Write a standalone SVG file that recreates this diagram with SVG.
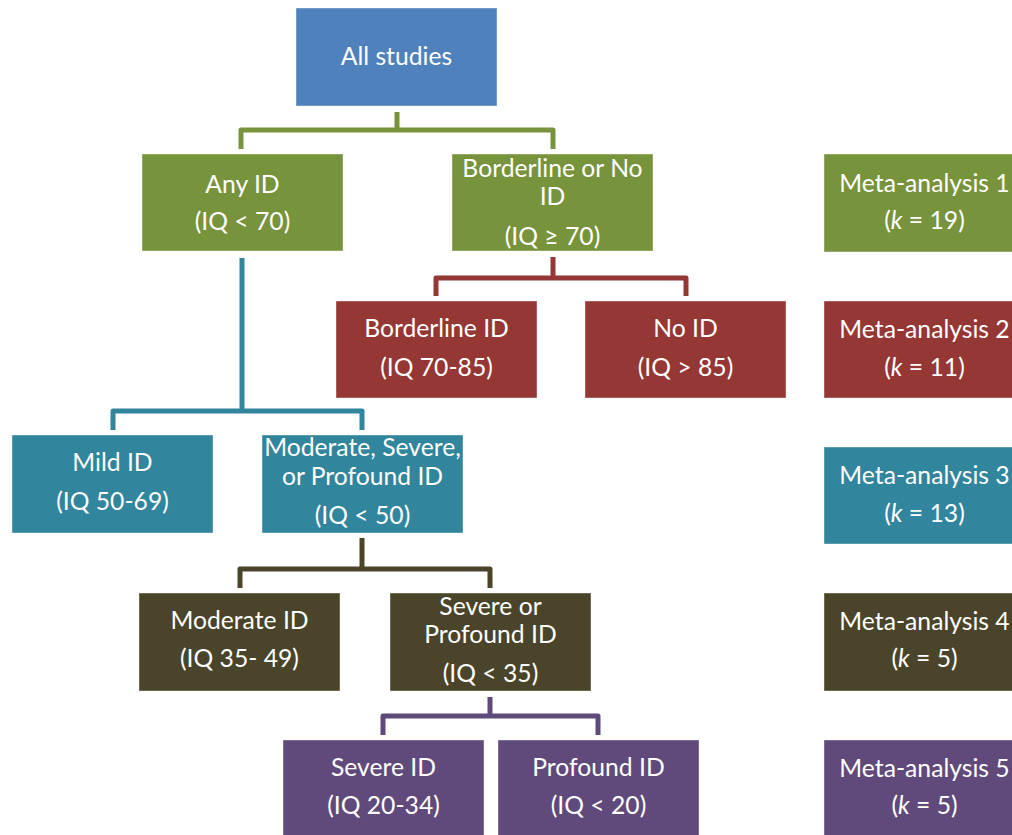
<svg xmlns="http://www.w3.org/2000/svg" width="1012" height="835" viewBox="0 0 1012 835">
<style>
  .box { stroke: #ffffff; stroke-opacity: 0.4; stroke-width: 1; }
  .blue { fill: #4F81BD; }
  .green { fill: #77933C; }
  .red { fill: #953735; }
  .teal { fill: #31859C; }
  .olive { fill: #4A452A; }
  .purple { fill: #604A7B; }
  text { font-family: Lato, "Open Sans", "Liberation Sans", sans-serif; font-size: 24.7px; fill: #ffffff; text-anchor: middle; }
  .it { font-style: italic; }
  .conn { fill: none; stroke-width: 5; stroke-linejoin: round; }
  .c-green { stroke: #77933C; }
  .c-red { stroke: #953735; }
  .c-teal { stroke: #31859C; }
  .c-olive { stroke: #4A452A; }
  .c-purple { stroke: #604A7B; }
</style>
<rect width="1012" height="835" fill="#ffffff"/>
<g id="connectors">
  <path class="conn c-green" d="M397,112 V130 M241,149 V130 H553 V149"/>
  <path class="conn c-red" d="M553,257 V278 M436,296 V278 H686 V296"/>
  <path class="conn c-teal" d="M242,258 V411 M113,430 V411 H362 V430"/>
  <path class="conn c-olive" d="M362,538 V569 M240,588 V569 H490 V588"/>
  <path class="conn c-purple" d="M490,697 V716 M383,735 V716 H598 V735"/>
</g>
<g id="all-studies">
  <rect class="box blue" x="296" y="8" width="201" height="98"/>
  <text x="396.5" y="65">All studies</text>
</g>
<g id="any-id">
  <rect class="box green" x="142" y="154" width="201" height="97"/>
  <text x="242.5" y="193">Any ID</text>
  <text x="242.5" y="230">(IQ &lt; 70)</text>
</g>
<g id="borderline-or-no-id">
  <rect class="box green" x="452" y="154" width="201" height="97"/>
  <text x="552.5" y="177">Borderline or No</text>
  <text x="552.5" y="205">ID</text>
  <text x="552.5" y="245">(IQ ≥ 70)</text>
</g>
<g id="meta-1">
  <rect class="box green" x="824" y="154" width="201" height="98"/>
  <text x="924.5" y="192">Meta-analysis 1</text>
  <text x="924.5" y="229">(<tspan class="it">k</tspan> = 19)</text>
</g>
<g id="borderline-id">
  <rect class="box red" x="336" y="301" width="201" height="97"/>
  <text x="436.5" y="337">Borderline ID</text>
  <text x="436.5" y="376">(IQ 70-85)</text>
</g>
<g id="no-id">
  <rect class="box red" x="585" y="301" width="201" height="97"/>
  <text x="685.5" y="337">No ID</text>
  <text x="685.5" y="376">(IQ &gt; 85)</text>
</g>
<g id="meta-2">
  <rect class="box red" x="824" y="301" width="201" height="97"/>
  <text x="924.5" y="338">Meta-analysis 2</text>
  <text x="924.5" y="376">(<tspan class="it">k</tspan> = 11)</text>
</g>
<g id="mild-id">
  <rect class="box teal" x="12" y="435" width="201" height="98"/>
  <text x="112.5" y="471">Mild ID</text>
  <text x="112.5" y="510">(IQ 50-69)</text>
</g>
<g id="moderate-severe-profound-id">
  <rect class="box teal" x="262" y="435" width="201" height="98"/>
  <text x="362.5" y="456">Moderate, Severe,</text>
  <text x="362.5" y="485">or Profound ID</text>
  <text x="362.5" y="524">(IQ &lt; 50)</text>
</g>
<g id="meta-3">
  <rect class="box teal" x="824" y="447" width="201" height="97"/>
  <text x="924.5" y="484">Meta-analysis 3</text>
  <text x="924.5" y="522">(<tspan class="it">k</tspan> = 13)</text>
</g>
<g id="moderate-id">
  <rect class="box olive" x="139" y="593" width="201" height="98"/>
  <text x="239.5" y="629">Moderate ID</text>
  <text x="239.5" y="667">(IQ 35- 49)</text>
</g>
<g id="severe-or-profound-id">
  <rect class="box olive" x="390" y="593" width="201" height="98"/>
  <text x="490.5" y="615">Severe or</text>
  <text x="490.5" y="643">Profound ID</text>
  <text x="490.5" y="682">(IQ &lt; 35)</text>
</g>
<g id="meta-4">
  <rect class="box olive" x="824" y="593" width="201" height="98"/>
  <text x="924.5" y="630">Meta-analysis 4</text>
  <text x="924.5" y="667">(<tspan class="it">k</tspan> = 5)</text>
</g>
<g id="severe-id">
  <rect class="box purple" x="283" y="740" width="201" height="98"/>
  <text x="383.5" y="776">Severe ID</text>
  <text x="383.5" y="814">(IQ 20-34)</text>
</g>
<g id="profound-id">
  <rect class="box purple" x="498" y="740" width="201" height="98"/>
  <text x="598.5" y="776">Profound ID</text>
  <text x="598.5" y="814">(IQ &lt; 20)</text>
</g>
<g id="meta-5">
  <rect class="box purple" x="824" y="740" width="201" height="98"/>
  <text x="924.5" y="777">Meta-analysis 5</text>
  <text x="924.5" y="814">(<tspan class="it">k</tspan> = 5)</text>
</g>
</svg>
